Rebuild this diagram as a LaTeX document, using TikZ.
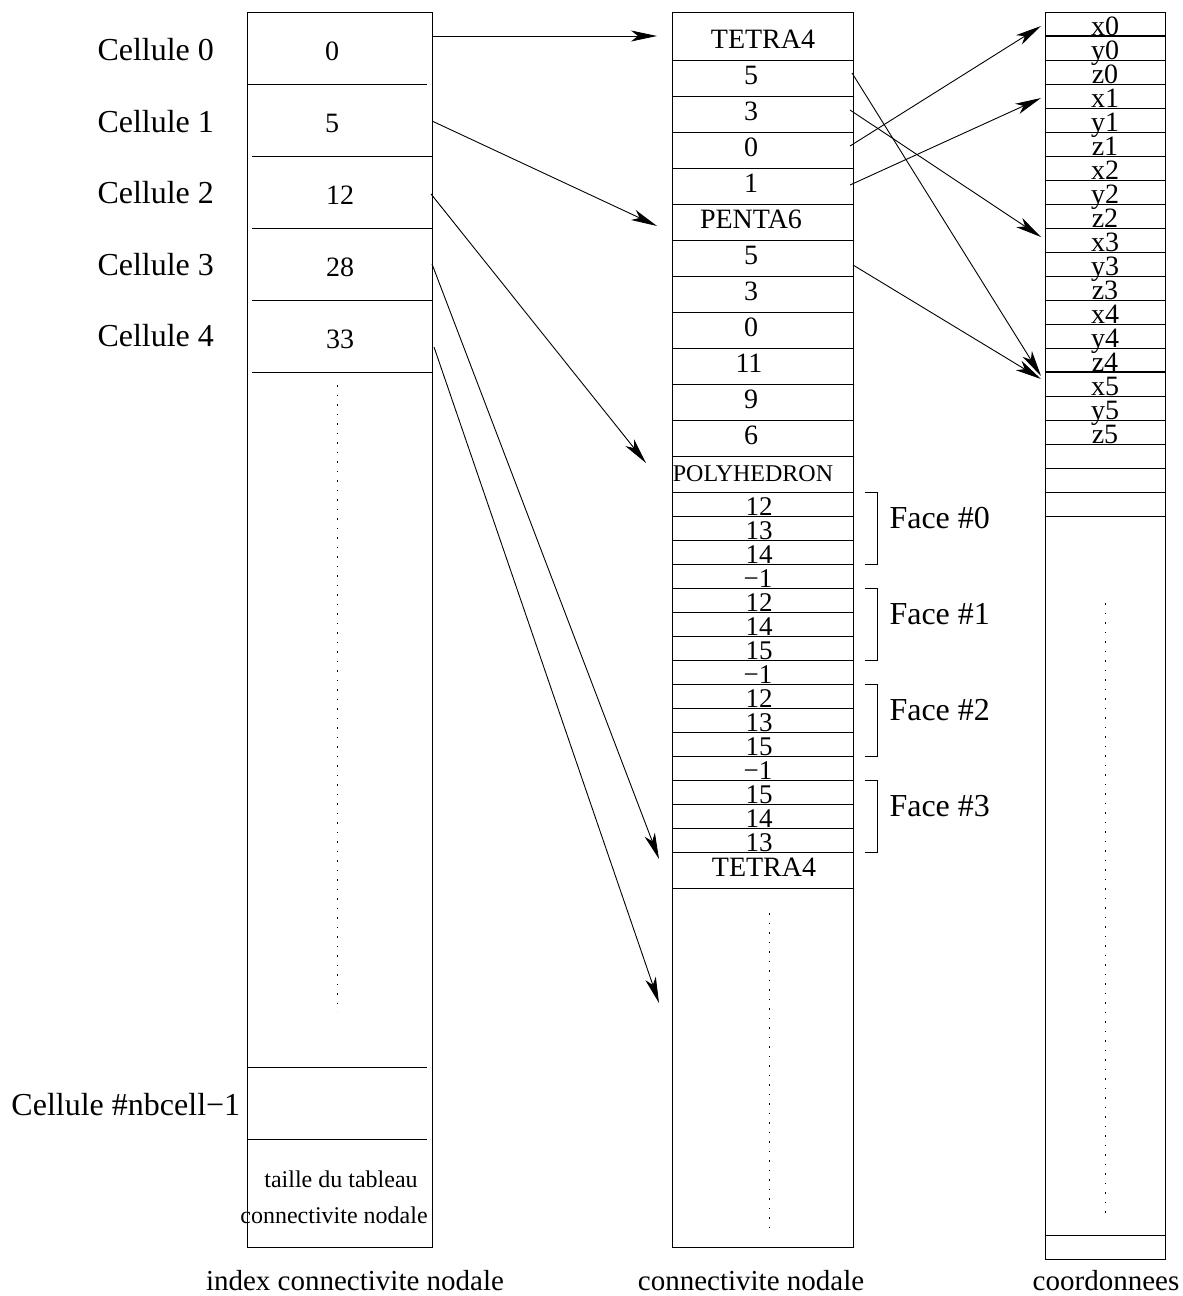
\documentclass[tikz,border=0pt]{standalone}
\usepackage{fontspec}
\setmainfont{Liberation Serif}
\usetikzlibrary{arrows.meta}
\begin{document}
\begin{tikzpicture}[x=1pt,y=-1pt,line width=1pt,
  big/.style={inner sep=0pt,anchor=base,font=\fontsize{32}{36}\selectfont},
  bigw/.style={inner sep=0pt,anchor=base west,font=\fontsize{32}{36}\selectfont},
  num/.style={inner sep=0pt,anchor=base,font=\fontsize{28}{32}\selectfont},
  fnum/.style={inner sep=0pt,anchor=base,font=\fontsize{27}{30}\selectfont},
  small/.style={inner sep=0pt,anchor=base,font=\fontsize{24}{28}\selectfont},
  lab/.style={inner sep=0pt,anchor=base,font=\fontsize{29}{33}\selectfont},
  arr/.style={-{Stealth[length=26pt,width=11pt,inset=7pt]},line width=0.9pt},
  dots/.style={line width=1pt,dash pattern=on 1.5pt off 8pt}]
\useasboundingbox (0,0) rectangle (1183,1296);

% ---------- left column: index connectivite nodale ----------
\draw (247,12) rectangle (432,1247);
\draw (247,84) -- (427,84);
\foreach \y in {156,228,300,372} \draw (252,\y) -- (432,\y);
\draw (248,1067) -- (427,1067);
\draw (248,1139) -- (427,1139);
\draw[dots] (337,385) -- (337,1012);
\node[num] (i0) at (332,60) {0};
\node[num] (i1) at (332,132) {5};
\node[num] (i2) at (340,204) {12};
\node[num] (i3) at (340,276) {28};
\node[num] (i4) at (340,348) {33};
\node[small] (t1) at (341,1187) {taille du tableau};
\node[small] (t2) at (334,1223) {connectivite nodale};

\node[bigw] (c0) at (97,60) {Cellule 0};
\node[bigw] (c1) at (97,132) {Cellule 1};
\node[bigw] (c2) at (97,203) {Cellule 2};
\node[bigw] (c3) at (97,275) {Cellule 3};
\node[bigw] (c4) at (97,346) {Cellule 4};
\node[bigw] (cn) at (11,1115) {Cellule \#nbcell−1};

% ---------- middle column: connectivite nodale ----------
\draw (672,12) rectangle (853,1247);
\foreach \y in {60,96,132,168,204,240,276,312,348,384,420,456,492,516,540,564,588,612,636,660,684,708,732,756,780,804,828,852,888}
  \draw (672,\y) -- (853,\y);
\draw[dots] (769,913) -- (769,1232);
\node[num] (m0) at (763,48) {TETRA4};
\node[num] (m1) at (751,84) {5};
\node[num] (m2) at (751,120) {3};
\node[num] (m3) at (751,156) {0};
\node[num] (m4) at (751,192) {1};
\node[num] (m5) at (751,228) {PENTA6};
\node[num] (m6) at (751,264) {5};
\node[num] (m7) at (751,300) {3};
\node[num] (m8) at (751,336) {0};
\node[num] (m9) at (749,372) {11};
\node[num] (m10) at (751,408) {9};
\node[num] (m11) at (751,444) {6};
\node[small] (m12) at (753,481) {POLYHEDRON};
\node[fnum] (f1) at (759,515) {12};
\node[fnum] (f2) at (759,539) {13};
\node[fnum] (f3) at (759,563) {14};
\node[fnum] (f4) at (758,587) {−1};
\node[fnum] (f5) at (759,611) {12};
\node[fnum] (f6) at (759,635) {14};
\node[fnum] (f7) at (759,659) {15};
\node[fnum] (f8) at (758,683) {−1};
\node[fnum] (f9) at (759,707) {12};
\node[fnum] (f10) at (759,731) {13};
\node[fnum] (f11) at (759,755) {15};
\node[fnum] (f12) at (758,779) {−1};
\node[fnum] (f13) at (759,803) {15};
\node[fnum] (f14) at (759,827) {14};
\node[fnum] (f15) at (759,851) {13};
\node[num] (m13) at (764,876) {TETRA4};

% face brackets
\foreach \a/\b/\n in {492/564/0,588/660/1,684/756/2,780/852/3}{
  \draw (865,\a) -- (877,\a) -- (877,\b) -- (865,\b);
  \node[bigw] (face\n) at (889,{(\a+\b)/2}) {Face \#\n};
}

% ---------- right column: coordonnees ----------
\draw (1045,12) rectangle (1165,1259);
\foreach \y in {60,84,...,348,396,420,...,516} \draw (1045,\y) -- (1165,\y);
\draw[line width=1.6pt] (1045,36) -- (1165,36);
\draw[line width=1.6pt] (1045,372) -- (1165,372);
\draw (1045,1235) -- (1165,1235);
\draw[dots] (1105,603) -- (1105,1218);
\foreach \t [count=\i from 0] in {x0,y0,z0,x1,y1,z1,x2,y2,z2,x3,y3,z3,x4,y4,z4,x5,y5,z5}
  \node[num] (k\i) at (1105,{35+24*\i}) {\t};

% ---------- bottom labels ----------
\node[lab] (L1) at (355,1290) {index connectivite nodale};
\node[lab] (L2) at (751,1290) {connectivite nodale};
\node[lab] (L3) at (1106,1290) {coordonnees};

% ---------- arrow end points ----------
\coordinate (s1) at (432,36);  \coordinate (e1) at (657,36);
\coordinate (s2) at (432,121); \coordinate (e2) at (657,226);
\coordinate (s3) at (431,194); \coordinate (e3) at (646,463);
\coordinate (s4) at (432,264); \coordinate (e4) at (659,859);
\coordinate (s5) at (434,347); \coordinate (e5) at (659,1003);
\coordinate (sa) at (850,146); \coordinate (ea) at (1041,26);
\coordinate (sb) at (850,185); \coordinate (eb) at (1041,98);
\coordinate (sc) at (852,73);  \coordinate (ec) at (1041,376);
\coordinate (sd) at (850,110); \coordinate (ed) at (1041,237);
\coordinate (se) at (853,265); \coordinate (ee) at (1041,379);

\foreach \p in {1,2,3,4,5,a,b,c,d,e} \draw[arr] (s\p) -- (e\p);
\end{tikzpicture}
\end{document}
